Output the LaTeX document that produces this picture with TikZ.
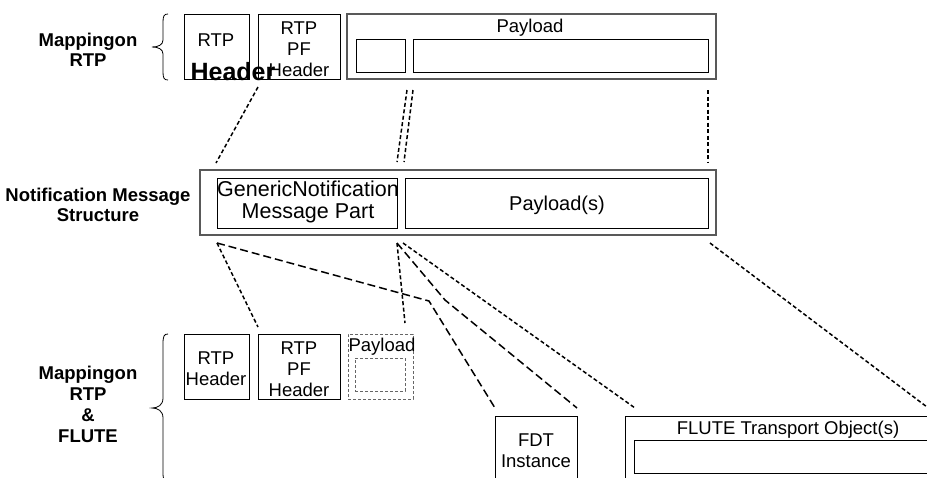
\documentclass[tikz,border=0pt]{standalone}
\usepackage{fontspec}
\setmainfont{Liberation Sans}
\begin{document}
\begin{tikzpicture}[x=1pt,y=-1pt,
  box/.style={draw, line width=0.8pt, rectangle, inner sep=0pt},
  obox/.style={draw=black!65, line width=1.2pt, rectangle, inner sep=0pt},
  dbox/.style={draw=black!60, line width=0.8pt, dash pattern=on 3pt off 2pt, rectangle, inner sep=0pt},
  txt/.style={inner sep=0pt, align=center, font=\fontsize{18.5}{21}\selectfont},
  btxt/.style={inner sep=0pt, align=center, font=\bfseries\fontsize{18.5}{20.5}\selectfont},
  fine/.style={line width=1.5pt, dash pattern=on 4pt off 2.5pt},
  longd/.style={line width=1.5pt, dash pattern=on 8pt off 4pt},
  brace/.style={line width=0.8pt}]
\useasboundingbox (0,0) rectangle (927,477);
% ---------- top row ----------
\draw[brace] (168,14) .. controls (164,14) and (163,16) .. (163,22) -- (163,40)
  .. controls (163,45) and (158,47) .. (152,47) .. controls (158,47) and (163,49) .. (163,54)
  -- (163,72) .. controls (163,78) and (164,80) .. (168,80);
\node[btxt] (lblA) at (88,50) {Mappingon\\RTP};
\node[box, minimum width=65pt, minimum height=65pt] (rtpA) at (216.5,46.5) {};
\node[box, minimum width=82pt, minimum height=65pt] (pfA) at (299,46.5) {};
\node[obox, minimum width=369pt, minimum height=65pt] (payA) at (531.5,46.5) {};
\node[box, minimum width=49pt, minimum height=33pt] (payAa) at (380.5,55.5) {};
\node[box, minimum width=295pt, minimum height=33pt] (payAb) at (560.5,55.5) {};
\node[txt] (rtpAt) at (216,40) {RTP};
\node[txt] (pfAt) at (299,49) {RTP\\PF\\Header};
\node[inner sep=0pt, font=\bfseries\fontsize{25}{28}\selectfont] (hdr) at (233,72) {Header};
\node[txt] (payAt) at (530,28) {Payload};
% ---------- middle row ----------
\node[btxt] (lblB) at (98,205) {Notification Message\\Structure};
\node[obox, minimum width=516pt, minimum height=65pt] (nm) at (458,202.5) {};
\node[box, minimum width=180pt, minimum height=50pt] (gen) at (307,203) {};
\node[box, minimum width=303pt, minimum height=50pt] (pays) at (556.5,203) {};
\node[inner sep=0pt, align=center, font=\fontsize{21.5}{22}\selectfont] (gent) at (308,202) {GenericNotification\\Message Part};
\node[inner sep=0pt, font=\fontsize{20}{22}\selectfont] (payst) at (557,205) {Payload(s)};
% ---------- bottom row ----------
\draw[brace] (168,334) .. controls (164,334) and (163,336) .. (163,344) -- (163,398)
  .. controls (163,405) and (158,408) .. (152,408) .. controls (158,408) and (163,411) .. (163,418)
  -- (163,472) .. controls (163,480) and (164,482) .. (168,482);
\node[btxt, font=\bfseries\fontsize{18.5}{21}\selectfont] (lblC) at (88,404) {Mappingon\\RTP\\\&\\FLUTE};
\node[box, minimum width=65pt, minimum height=65pt] (rtpB) at (216.5,366.5) {};
\node[box, minimum width=82pt, minimum height=65pt] (pfB) at (299,366.5) {};
\node[dbox, minimum width=65pt, minimum height=65pt] (payB) at (380.5,366.5) {};
\node[dbox, minimum width=50pt, minimum height=33pt] (payBa) at (380,374.5) {};
\node[box, minimum width=82pt, minimum height=74pt] (fdt) at (536,453) {};
\node[box, minimum width=315pt, minimum height=74pt] (flute) at (782.5,453) {};
\node[box, minimum width=301pt, minimum height=33pt] (flutea) at (784.5,456.5) {};
\node[txt] (rtpBt) at (216,369) {RTP\\Header};
\node[txt] (pfBt) at (299,369) {RTP\\PF\\Header};
\node[txt] (payBt) at (382,347) {Payload};
\node[txt] (fdtt) at (536,451) {FDT\\Instance};
\node[txt] (flutet) at (788,430) {FLUTE Transport Object(s)};
% ---------- connector end points ----------
\coordinate (t1a) at (258,87);  \coordinate (t1b) at (216,163);
\coordinate (t2a) at (407,90);  \coordinate (t2b) at (397,162);
\coordinate (t3a) at (413,90);  \coordinate (t3b) at (404,162);
\coordinate (t4a) at (708,90);  \coordinate (t4b) at (708,162);
\coordinate (bL) at (217,243);
\coordinate (bM) at (397,243);
\coordinate (bM2) at (403,243);
\coordinate (bR) at (710,243);
\coordinate (eA) at (258,327);
\coordinate (kB) at (429,301); \coordinate (eB) at (495,408);
\coordinate (eC) at (405,323);
\coordinate (kD) at (445,300); \coordinate (eD) at (577,408);
\coordinate (eE) at (635,408);
\coordinate (eF) at (927,407);
% ---------- connectors ----------
\draw[fine] (t1a) -- (t1b);
\draw[fine] (t2a) -- (t2b);
\draw[fine] (t3a) -- (t3b);
\draw[fine] (t4a) -- (t4b);
\draw[fine] (bL) -- (eA);
\draw[longd] (bL) -- (kB) -- (eB);
\draw[fine] (bM) -- (eC);
\draw[longd] (bM) -- (kD) -- (eD);
\draw[fine] (bM2) -- (eE);
\draw[fine] (bR) -- (eF);
\end{tikzpicture}
\end{document}
